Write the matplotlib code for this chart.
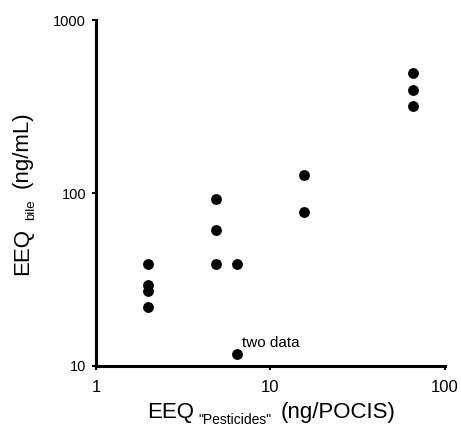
import matplotlib
matplotlib.use("Agg")
import matplotlib.pyplot as plt
from matplotlib.transforms import IdentityTransform
from matplotlib.ticker import FixedLocator, NullLocator, FixedFormatter

plt.rcParams['font.family'] = ['Liberation Sans', 'DejaVu Sans']

# EEQ in POCIS extracts (pesticide fraction) vs EEQ measured in fish bile
eeq_pocis = [2.0, 2.0, 2.0, 2.0,
             4.85, 4.85, 4.85,
             6.4, 6.4,
             15.6, 15.6,
             66, 66, 66]
eeq_bile = [39, 29.5, 27, 22,
            92, 61, 39,
            39, 11.7,
            127, 78,
            495, 395, 320]

x_ticks = [1, 10, 100]
y_ticks = [10, 100, 1000]

W, H = 461, 430
fig = plt.figure(figsize=(W / 100, H / 100), dpi=100)
ax = fig.add_axes([0.208, 0.149, 0.757, 0.804])

ax.scatter(eeq_pocis, eeq_bile, s=46, color='black', zorder=3, clip_on=False)

ax.set_xscale('log')
ax.set_yscale('log')
ax.set_xlim(1, 100)
ax.set_ylim(10, 1000)

ax.xaxis.set_major_locator(FixedLocator(x_ticks))
ax.yaxis.set_major_locator(FixedLocator(y_ticks))
ax.xaxis.set_minor_locator(NullLocator())
ax.yaxis.set_minor_locator(NullLocator())
ax.xaxis.set_major_formatter(FixedFormatter([str(v) for v in x_ticks]))
ax.yaxis.set_major_formatter(FixedFormatter([str(v) for v in y_ticks]))

for side in ['top', 'right']:
    ax.spines[side].set_visible(False)
for side in ['left', 'bottom']:
    ax.spines[side].set_linewidth(2.2)

ax.tick_params(axis='both', which='major', direction='out', length=3,
               width=1.5, colors='black')
ax.tick_params(axis='x', labelsize=12, pad=7)
ax.tick_params(axis='y', labelsize=10.5, pad=4)

ax.annotate('two data', xy=(6.85, 12.3), fontsize=11, ha='left', va='bottom')

# axis titles with a small subscript, laid out piece by piece (pixels)
renderer = fig.canvas.get_renderer()


def text_width(s, size):
    t = fig.text(0, 0, s, fontsize=size)
    w = t.get_window_extent(renderer).width
    t.remove()
    return w


def compound_label(pieces, gaps, center, base, vertical=False):
    widths = [text_width(s, fs) for s, fs, _ in pieces]
    total = sum(widths) + sum(gaps)
    pos = center - total / 2
    for i, (s, fs, shift) in enumerate(pieces):
        if vertical:
            fig.text(base + shift, pos, s, fontsize=fs, rotation=90,
                     rotation_mode='anchor', ha='left', va='baseline',
                     transform=IdentityTransform())
        else:
            fig.text(pos, base - shift, s, fontsize=fs, ha='left',
                     va='baseline', transform=IdentityTransform())
        pos += widths[i] + (gaps[i] if i < len(gaps) else 0)


compound_label([('EEQ', 16, 0), ('"Pesticides"', 10, 6), ('(ng/POCIS)', 16, 0)],
               gaps=[4, 9], center=271.5, base=H - 418)
compound_label([('EEQ', 16, 0), ('bile', 9.5, 6), ('(ng/mL)', 16, 0)],
               gaps=[8, 11], center=H - 193.5, base=28, vertical=True)

fig.savefig('out.png', dpi=100)
